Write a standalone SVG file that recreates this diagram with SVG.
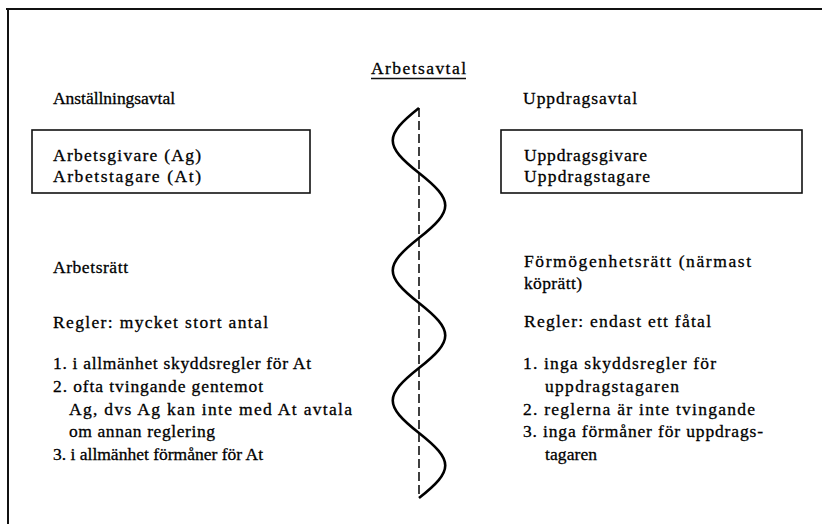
<svg xmlns="http://www.w3.org/2000/svg" width="822" height="524" viewBox="0 0 822 524">
<style>
text{font-family:"Liberation Serif","Times New Roman",serif;font-size:17.5px;fill:#000;stroke:#000;stroke-width:0.3}
.frame{stroke:#111;stroke-width:2;fill:none}
.box{stroke:#111;stroke-width:1.6;fill:none}
.wave{stroke:#000;stroke-width:2.6;fill:none;stroke-linejoin:miter}
.dash{stroke:#111;stroke-width:1.6;stroke-dasharray:9 4;fill:none}
</style>
<rect width="822" height="524" fill="#fff"/>
<g id="frame">
<line class="frame" x1="6" y1="9" x2="822" y2="9"/>
<line class="frame" x1="8" y1="9" x2="8" y2="524"/>
</g>
<g id="title">
<text x="371" y="74" textLength="95" lengthAdjust="spacing">Arbetsavtal</text>
<line x1="371" y1="78.5" x2="466" y2="78.5" stroke="#111" stroke-width="1.6"/>
</g>
<g id="left-heading">
<text x="53" y="104" textLength="122" lengthAdjust="spacing">Anställningsavtal</text>
</g>
<g id="left-box">
<rect class="box" x="32" y="130" width="278" height="63"/>
<text x="53" y="161" textLength="148" lengthAdjust="spacing">Arbetsgivare (Ag)</text>
<text x="53" y="182" textLength="148" lengthAdjust="spacing">Arbetstagare (At)</text>
</g>
<g id="right-heading">
<text x="523" y="104" textLength="114" lengthAdjust="spacing">Uppdragsavtal</text>
</g>
<g id="right-box">
<rect class="box" x="501" y="130" width="301" height="63"/>
<text x="524" y="161" textLength="123" lengthAdjust="spacing">Uppdragsgivare</text>
<text x="524" y="182" textLength="126" lengthAdjust="spacing">Uppdragstagare</text>
</g>
<g id="left-rules">
<text x="53" y="273" textLength="75" lengthAdjust="spacing">Arbetsrätt</text>
<text x="53" y="328" textLength="215" lengthAdjust="spacing">Regler: mycket stort antal</text>
<text x="53" y="369" textLength="258" lengthAdjust="spacing">1. i allmänhet skyddsregler för At</text>
<text x="53" y="392" textLength="210" lengthAdjust="spacing">2. ofta tvingande gentemot</text>
<text x="69" y="415" textLength="283" lengthAdjust="spacing">Ag, dvs Ag kan inte med At avtala</text>
<text x="69" y="437" textLength="146" lengthAdjust="spacing">om annan reglering</text>
<text x="53" y="460" textLength="210" lengthAdjust="spacing">3. i allmänhet förmåner för At</text>
</g>
<g id="right-rules">
<text x="524" y="267" textLength="227" lengthAdjust="spacing">Förmögenhetsrätt (närmast</text>
<text x="524" y="289" textLength="58" lengthAdjust="spacing">köprätt)</text>
<text x="524" y="327" textLength="187" lengthAdjust="spacing">Regler: endast ett fåtal</text>
<text x="523" y="369" textLength="193" lengthAdjust="spacing">1. inga skyddsregler för</text>
<text x="545" y="392" textLength="134" lengthAdjust="spacing">uppdragstagaren</text>
<text x="523" y="415" textLength="232" lengthAdjust="spacing">2. reglerna är inte tvingande</text>
<text x="523" y="437" textLength="240" lengthAdjust="spacing">3. inga förmåner för uppdrags-</text>
<text x="545" y="460" textLength="52" lengthAdjust="spacing">tagaren</text>
</g>
<g id="connectors">
<line class="dash" x1="419" y1="108" x2="419" y2="498"/>
<path class="wave" d="M419,108 C384,135.6 384,145.4 419,173 C454,200.6 454,210.4 419,238 C384,265.6 384,275.4 419,303 C454,330.6 454,340.4 419,368 C384,395.6 384,405.4 419,433 C454,460.6 454,470.4 419,498"/>
</g>
</svg>
